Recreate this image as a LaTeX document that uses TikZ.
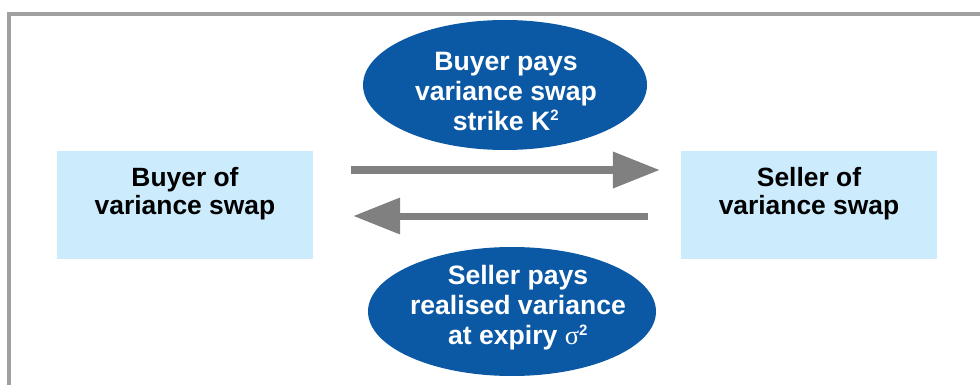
\documentclass[tikz,border=0pt]{standalone}
\usepackage{fontspec}
\setmainfont{Liberation Sans}
\newfontfamily\greekfont{Liberation Serif}
\usetikzlibrary{shapes.geometric,arrows.meta,calc}
\definecolor{bubbleblue}{HTML}{0B59A4}
\definecolor{boxblue}{HTML}{CCEBFD}
\definecolor{arrowgray}{HTML}{808080}
\definecolor{framegray}{HTML}{A0A0A0}
\tikzset{
  party/.style={rectangle, fill=boxblue, draw=none, minimum width=256pt, minimum height=108pt, inner sep=0pt},
  partytext/.style={align=center, inner sep=0pt, font=\fontsize{26.4}{28}\selectfont\bfseries, text=black},
  bubble/.style={ellipse, fill=bubbleblue, draw=none, inner sep=0pt},
  bubbletext/.style={align=center, inner sep=0pt, font=\fontsize{26.6}{30}\selectfont\bfseries, text=white},
  flow/.style={draw=arrowgray, line width=7pt, -{Triangle[length=47pt,width=35pt]}},
  frameline/.style={draw=framegray, line width=3.5pt}
}
\begin{document}
\begin{tikzpicture}[x=1pt,y=-1pt]
\useasboundingbox (0,0) rectangle (980,385);
\draw[frameline] (995,14) -- (9,14) -- (9,400);
% parties
\node[party] (b1) at (185,205) {};
\node[partytext] (b1t) at (185,194) {Buyer of\\variance swap};
\node[party] (b2) at (809,205) {};
\node[partytext] (b2t) at (809,194) {Seller of\\variance swap};
% bubbles
\node[bubble, minimum width=284pt, minimum height=130pt] (e1) at (505,85) {};
\node[bubbletext] (e1t) at (506,91) {Buyer pays\\variance swap\\strike K\textsuperscript{\fontsize{15}{15}\selectfont 2}};
\node[bubble, minimum width=288pt, minimum height=129pt] (e2) at (512,311.5) {};
\node[bubbletext] (e2t) at (518,308) {Seller pays\\realised variance\\at expiry {\greekfont\mdseries σ}\textsuperscript{\fontsize{15}{15}\selectfont 2}};
% flows
\draw[flow] ($(b1.east)+(38,-35)$) -- ($(b2.west)+(-21,-35)$);
\draw[flow] ($(b2.west)+(-33,11)$) -- ($(b1.east)+(40,11)$);
\end{tikzpicture}
\end{document}
